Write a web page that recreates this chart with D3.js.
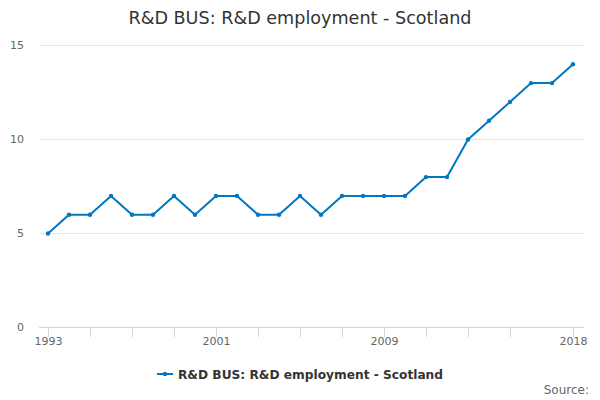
<!DOCTYPE html>
<html>
<head>
<meta charset="utf-8">
<script src="https://cdn.jsdelivr.net/npm/d3@7"></script>
<style>
  body { margin: 0; background: #fff; }
  svg { font-family: "DejaVu Sans", sans-serif; }
</style>
</head>
<body>
<div id="chart"></div>
<script>
const years = d3.range(1993, 2019);
const values = [5, 6, 6, 7, 6, 6, 7, 6, 7, 7, 6, 6, 7, 6, 7, 7, 7, 7, 8, 8, 10, 11, 12, 13, 13, 14];
const seriesName = "R&D BUS: R&D employment - Scotland";
const yTicks = [0, 5, 10, 15];
const xTicks = [1993, 1995, 1997, 1999, 2001, 2003, 2005, 2007, 2009, 2011, 2013, 2015, 2018];
const xLabels = [1993, 2001, 2009, 2018];
const lineColor = "#0077c0";

const width = 600, height = 400;
const plotLeft = 39, plotRight = 584, plotTop = 45, plotBottom = 327;

const svg = d3.select("#chart")
    .append("svg")
    .attr("width", width)
    .attr("height", height);

// title
svg.append("text")
    .attr("x", width / 2)
    .attr("y", 24)
    .attr("text-anchor", "middle")
    .attr("fill", "#333")
    .style("font-size", "17.6px")
    .text(seriesName);

const x = d3.scaleLinear()
    .domain([1993, 2018])
    .range([48, 573]);

const y = d3.scaleLinear()
    .domain([0, 15])
    .range([plotBottom, plotTop]);

// gridlines
svg.append("g")
    .selectAll("line")
    .data(yTicks.filter(t => t > 0))
    .enter()
    .append("line")
        .attr("x1", plotLeft)
        .attr("x2", plotRight)
        .attr("y1", d => y(d) + 0.5)
        .attr("y2", d => y(d) + 0.5)
        .attr("stroke", "#e6e6e6")
        .attr("stroke-width", 1);

// y labels
svg.append("g")
    .selectAll("text")
    .data(yTicks)
    .enter()
    .append("text")
        .attr("x", 24)
        .attr("y", d => y(d) + 4)
        .attr("text-anchor", "end")
        .attr("fill", "#666")
        .style("font-size", "11px")
        .text(d => d);

// x axis
const xAxis = d3.axisBottom(x)
    .tickValues(xTicks)
    .tickSize(10)
    .tickFormat(d => xLabels.includes(d) ? d : "");
const xg = svg.append("g")
    .attr("transform", `translate(0, ${plotBottom})`)
    .call(xAxis);
xg.select(".domain")
    .attr("d", `M${plotLeft},0.5H${plotRight}`)
    .attr("stroke", "#ccd6eb");
xg.selectAll(".tick line").attr("stroke", "#ccd6eb");
xg.selectAll(".tick text")
    .attr("y", 10)
    .attr("fill", "#666")
    .style("font-size", "11px")
    .style("font-family", "DejaVu Sans, sans-serif");

const data = years.map((yr, i) => ({year: yr, value: values[i]}));

svg.append("path")
    .datum(data)
    .attr("fill", "none")
    .attr("stroke", lineColor)
    .attr("stroke-width", 2)
    .attr("stroke-linejoin", "round")
    .attr("d", d3.line()
        .x(d => x(d.year))
        .y(d => y(d.value) + 0.5));

svg.append("g")
    .selectAll("circle")
    .data(data)
    .enter()
    .append("circle")
        .attr("cx", d => x(d.year))
        .attr("cy", d => y(d.value) + 0.5)
        .attr("r", 2.2)
        .attr("fill", lineColor);

// legend
const legend = svg.append("g").attr("transform", "translate(0, 374)");
const legText = legend.append("text")
    .attr("x", 178)
    .attr("y", 4.5)
    .attr("fill", "#333")
    .style("font-size", "12.2px")
    .style("font-weight", "bold")
    .text(seriesName);
const tw = legText.node().getComputedTextLength();
const totalW = 21 + tw;
const startX = (width - totalW) / 2;
legText.attr("x", startX + 21);
legend.append("line")
    .attr("x1", startX)
    .attr("x2", startX + 16)
    .attr("stroke", lineColor)
    .attr("stroke-width", 2);
legend.append("circle")
    .attr("cx", startX + 8)
    .attr("r", 2.2)
    .attr("fill", lineColor);

// source
svg.append("text")
    .attr("x", 589)
    .attr("y", 394)
    .attr("text-anchor", "end")
    .attr("fill", "#666")
    .style("font-size", "12px")
    .text("Source:");
</script>
</body>
</html>
